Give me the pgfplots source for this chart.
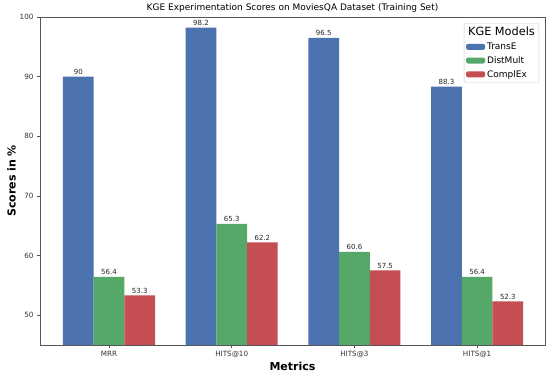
\documentclass[border=0pt]{standalone}
\usepackage{pgfplots}
\pgfplotsset{compat=1.18}
\usepackage{fontspec}
\setmainfont{DejaVu Sans}
\definecolor{cT}{HTML}{4C72B0}
\definecolor{cD}{HTML}{55A868}
\definecolor{cC}{HTML}{C44E52}
\definecolor{ax}{HTML}{555555}
\begin{document}
\begin{tikzpicture}[x=1pt,y=1pt]
\path[use as bounding box, fill=white] (-40,-30.2) rectangle (510,344.8);
\begin{axis}[
  at={(0,0)}, anchor=south west,
  width=505pt, height=327.8pt, scale only axis,
  ymin=45, ymax=100,
  xmin=-0.562, xmax=3.553,
  ybar=0pt, bar width=30.7pt,
  xtick={0,1,2,3},
  xticklabels={MRR,HITS@10,HITS@3,HITS@1},
  ytick={50,60,70,80,90,100},
  /pgf/number format/assume math mode=true,
  tick label style={font=\fontsize{7.2}{9}\selectfont, color=black!80},
  tick align=outside, tick pos=left,
  major tick length=3pt,
  axis line style={ax},
  every tick/.style={ax},
  title={KGE Experimentation Scores on MoviesQA Dataset (Training Set)},
  title style={font=\fontsize{9}{11}\selectfont, yshift=-5pt},
  xlabel={\textbf{Metrics}},
  ylabel={\textbf{Scores in \%}},
  xlabel style={font=\fontsize{11}{13}\selectfont, yshift=3pt},
  ylabel style={font=\fontsize{11}{13}\selectfont, yshift=-3pt},
  nodes near coords,
  every node near coord/.append style={font=\fontsize{7}{8}\selectfont, color=black!85, yshift=-1.5pt},
  legend style={at={(1,1)}, xshift=-6pt, yshift=-6pt, anchor=north east, draw=black!20, rounded corners=2pt, font=\fontsize{9}{11}\selectfont, inner sep=2pt, row sep=1.5pt},
  legend cell align=left,
  legend image code/.code={\fill[#1] (0pt,-3pt) rectangle (19pt,3pt);},
  clip=true,
]
\addlegendimage{empty legend}
\addlegendentry[font=\fontsize{11.3}{13}\selectfont]{\hspace{-19pt}KGE Models}
\addplot[fill=cT, draw=none] coordinates {(0,90) (1,98.2) (2,96.5) (3,88.3)};
\addlegendentry{TransE}
\addplot[fill=cD, draw=none] coordinates {(0,56.4) (1,65.3) (2,60.6) (3,56.4)};
\addlegendentry{DistMult}
\addplot[fill=cC, draw=none] coordinates {(0,53.3) (1,62.2) (2,57.5) (3,52.3)};
\addlegendentry{ComplEx}
\end{axis}
\end{tikzpicture}
\end{document}
